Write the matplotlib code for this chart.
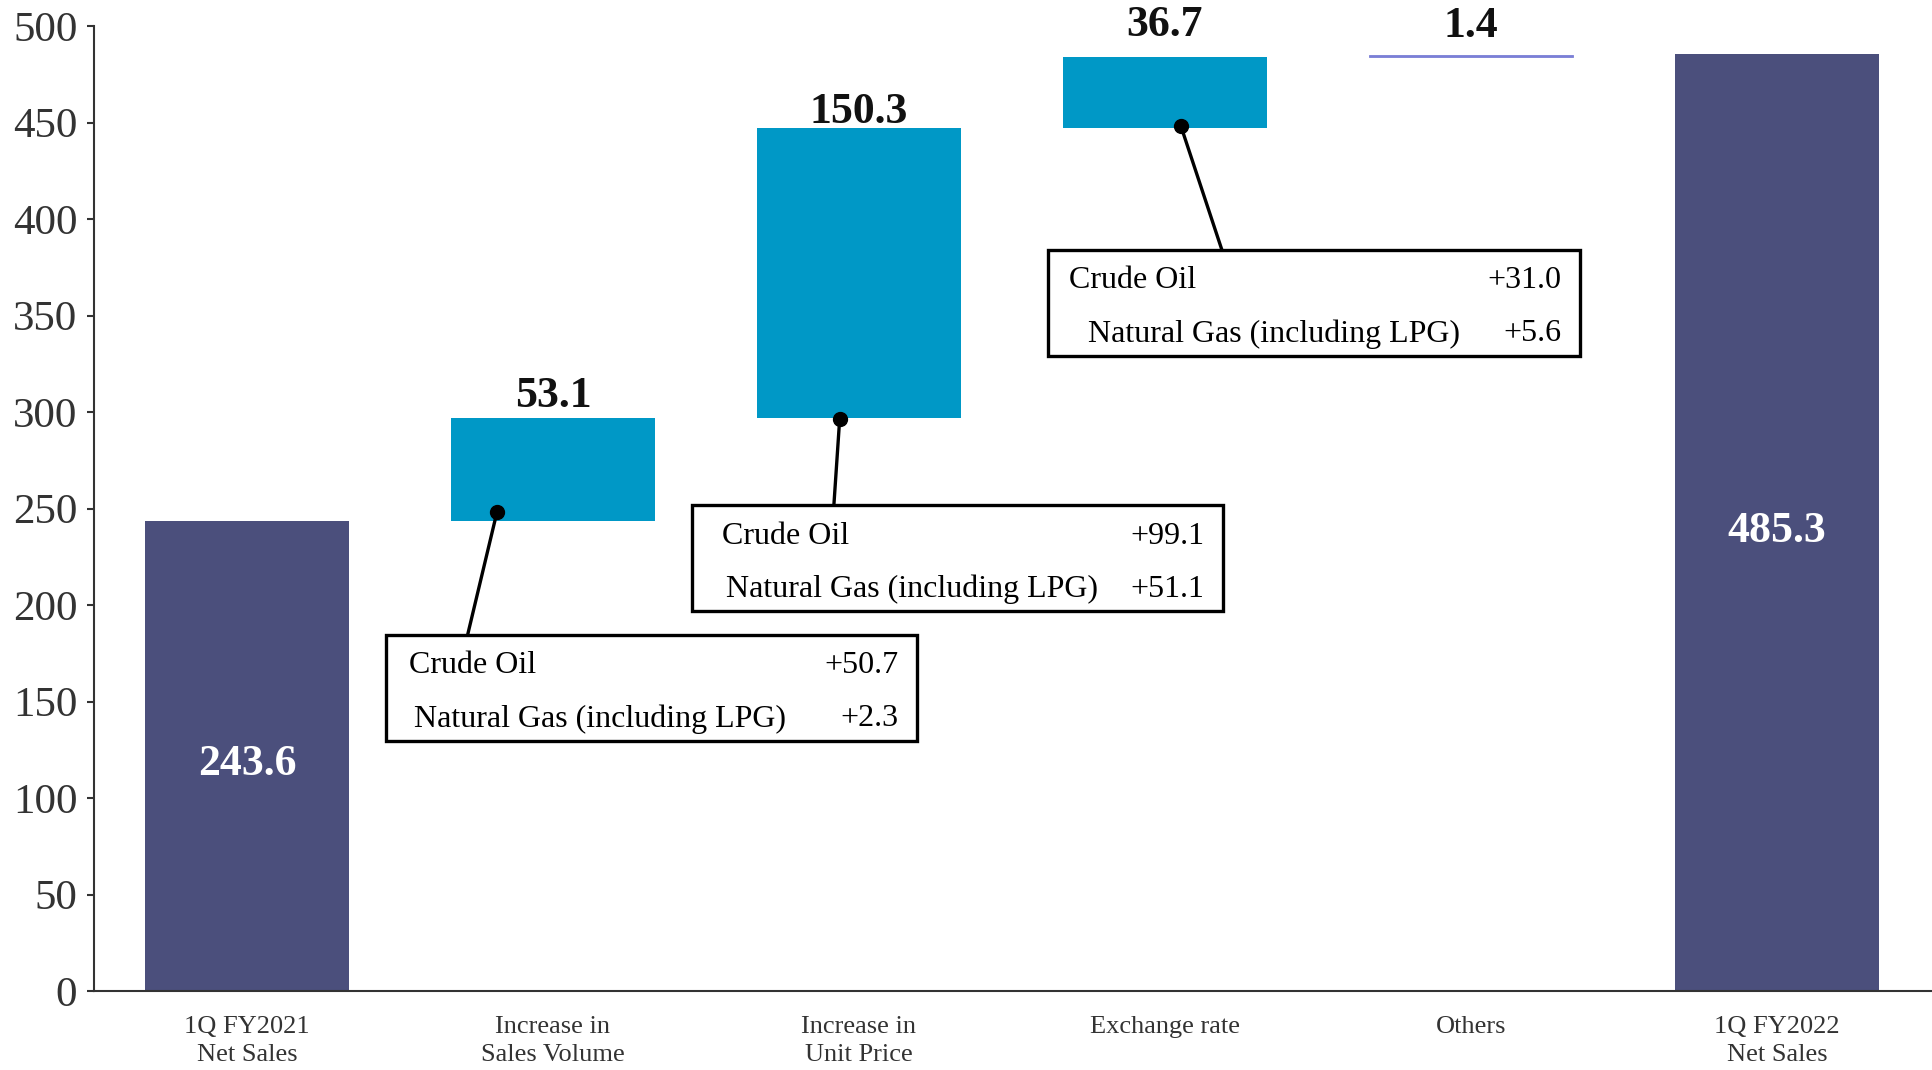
import matplotlib
matplotlib.use("Agg")
import matplotlib.pyplot as plt
from matplotlib.patches import Rectangle

plt.rcParams['font.family'] = ['Liberation Serif', 'DejaVu Serif']

# Net sales bridge: 1Q FY2021 -> 1Q FY2022 (billion yen)
categories = ["1Q FY2021\nNet Sales", "Increase in\nSales Volume", "Increase in\nUnit Price",
              "Exchange rate", "Others", "1Q FY2022\nNet Sales"]
start_total = 243.6
changes = [53.1, 150.3, 36.7, 1.4]
end_total = 485.3

# Breakdown of the first three changes
breakdown_labels = ["Crude Oil", "Natural Gas (including LPG)"]
volume_breakdown = ["+50.7", "+2.3"]
price_breakdown = ["+99.1", "+51.1"]
fx_breakdown = ["+31.0", "+5.6"]

DARK = "#4b4f7c"
BLUE = "#0098c6"
OTHER = "#7b7fd6"

fig = plt.figure(figsize=(19.33, 10.70), dpi=100)
ax = fig.add_axes([94 / 1933, 1 - 991 / 1070, 1 - 94 / 1933, (991 - 26) / 1070])

x = list(range(len(categories)))
width = 0.667

# Totals
ax.bar(x[0], start_total, width=width, color=DARK)
ax.bar(x[-1], end_total, width=width, color=DARK)

# Floating increments
bottoms = []
level = start_total
for i, c in enumerate(changes):
    bottoms.append(level)
    last = i == len(changes) - 1
    col = OTHER if last else BLUE
    ax.bar(x[i + 1], c, bottom=level, width=width, color=col,
           edgecolor=col, linewidth=0.6 if last else 0)
    level += c

# Value labels above the increments
label_gap_pts = [2, -3, 9, 6]
for i, c in enumerate(changes):
    ax.annotate(f"{c:.1f}", xy=(x[i + 1], bottoms[i] + c), xytext=(0, label_gap_pts[i]),
                textcoords="offset points", ha="center", va="bottom",
                fontsize=31.5, fontweight="bold", color="#111111", annotation_clip=False)

# Value labels inside the totals
for xi, total in ((x[0], start_total), (x[-1], end_total)):
    ax.annotate(f"{total:.1f}", xy=(xi, total / 2), xytext=(0, -6), textcoords="offset points",
                ha="center", va="center", fontsize=31.5, fontweight="bold", color="white")

# Breakdown boxes with connectors: (box x0, x1, top, bottom), anchor dot, connector top x,
# text indents for the two rows
callouts = [
    dict(box=(0.453, 2.190, 184.5, 129.5), dot=(0.817, 248.2), top_x=0.721,
         indent=(0.075, 0.092), values=volume_breakdown),
    dict(box=(1.454, 3.190, 251.8, 196.8), dot=(1.937, 296.5), top_x=1.918,
         indent=(0.098, 0.112), values=price_breakdown),
    dict(box=(2.618, 4.356, 384.0, 329.0), dot=(3.052, 448.2), top_x=3.186,
         indent=(0.070, 0.132), values=fx_breakdown),
]
for cfg in callouts:
    x0, x1, top, bot = cfg["box"]
    dx, dy = cfg["dot"]
    ax.plot([dx, cfg["top_x"]], [dy, top], color="black", lw=2.4, zorder=4,
            solid_capstyle="butt", clip_on=False)
    ax.plot([dx], [dy], marker="o", ms=10, color="black", zorder=5, clip_on=False)
    ax.add_patch(Rectangle((x0, bot), x1 - x0, top - bot, facecolor="white",
                           edgecolor="black", lw=2.4, zorder=4, clip_on=False))
    row_y = [top - 31 / 1.93, top - 84 / 1.93]
    for j in range(2):
        ax.text(x0 + cfg["indent"][j], row_y[j], breakdown_labels[j], ha="left", va="center",
                fontsize=23, color="black", zorder=6)
        ax.text(x1 - 0.06, row_y[j], cfg["values"][j], ha="right", va="center",
                fontsize=23, color="black", zorder=6)

# Axes styling
ax.set_xlim(-0.5, 5.51)
ax.set_ylim(0, 500)
ax.set_yticks(range(0, 501, 50))
ax.set_xticks(x)
ax.set_xticklabels(categories, linespacing=1.35)
for s in ("top", "right"):
    ax.spines[s].set_visible(False)
for s in ("left", "bottom"):
    ax.spines[s].set_color("#333333")
    ax.spines[s].set_linewidth(1.5)
ax.tick_params(axis="y", length=5, width=1.5, color="#333333", labelsize=31,
               labelcolor="#333333", pad=7)
ax.tick_params(axis="x", length=0, labelsize=19, labelcolor="#333333", pad=18)

fig.savefig("out.png", dpi=100)
